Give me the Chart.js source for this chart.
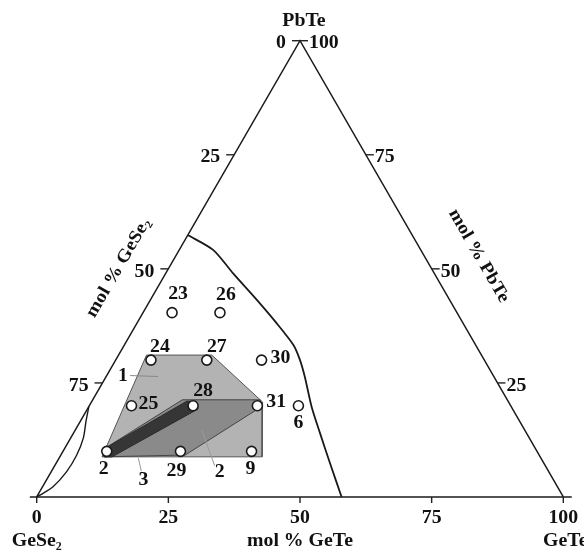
<!DOCTYPE html>
<html>
<head>
<meta charset="utf-8">
<script src="https://cdn.jsdelivr.net/npm/chart.js@4.4.0/dist/chart.umd.min.js"></script>
<style>
  html, body { margin: 0; padding: 0; background: #fff; }
  #forChart { width: 584px; height: 552px; }
</style>
</head>
<body>
<div id="forChart"><canvas id="myChart" width="584" height="552"></canvas></div>
<script>
// compositions, mol % (GeSe2 = 100 - GeTe - PbTe)
const pointNames = ['23', '26', '24', '27', '30', '25', '28', '31', '6', '2', '29', '9'];
const pointPbTe  = [40.4, 40.4, 30, 30, 30, 20, 20, 20, 20, 10, 10, 10];
const pointGeTe  = [5.5, 14.6, 6.7, 17.3, 27.7, 8, 19.7, 31.9, 39.7, 8.3, 22.3, 35.8];

// phase boundary
const boundaryPbTe = [57.4, 54.1, 49.0, 43.2, 38.1, 33.3, 30.0, 26.4, 19.8, 14.0, 7.4, 0];
const boundaryGeTe = [0, 6.5, 12.8, 20.2, 26.5, 32.1, 35.0, 37.7, 42.3, 46.8, 52.0, 57.9];

// small lens near GeSe2 corner
const lensPbTe = [19.8, 16.5, 12.9, 9.2, 5.5, 2.3, 0.4, 0];
const lensGeTe = [0, 1.1, 2.4, 3.0, 2.9, 2.0, 0.4, 0];

// regions 1, 2, 3
const region1PbTe = [31.1, 31.1, 20.8, 8.8, 8.8];
const region1GeTe = [5.3, 17.7, 32.5, 38.4, 8.0];
const region2PbTe = [21.3, 21.3, 19.8, 9.2, 8.8, 10.3];
const region2GeTe = [17.0, 31.8, 32.8, 23.6, 8.4, 7.3];
const region3PbTe = [10.3, 21.0, 20.9, 19.3, 8.8, 8.8];
const region3GeTe = [7.3, 18.0, 19.8, 21.0, 9.9, 8.4];
const regionNames = ['1', '2', '3'];
const regionLabelPbTe = [26.4, 5.3, 3.7];
const regionLabelGeTe = [3.2, 32.1, 18.4];

// axis ticks
const leftTicks = [0, 25, 50, 75];       // mol % GeSe2
const rightTicks = [100, 75, 50, 25];    // mol % PbTe
const bottomTicks = [0, 25, 50, 75, 100]; // mol % GeTe

function tern(geTe, pbTe) {
    return { x: geTe + pbTe / 2, y: pbTe * Math.sqrt(3) / 2 };
}
function build(pb, ge, close) {
    var out = pb.map(function(c, i) { return tern(ge[i], c); });
    if (close) out.push(out[0]);
    return out;
}

var FONT = '"Liberation Serif", "Times New Roman", serif';

const ternaryText = {
    id: 'ternaryText',
    afterDatasetsDraw: function(chart) {
        var ctx = chart.ctx;
        var xs = chart.scales.x, ys = chart.scales.y;
        function px(b, c) {
            var p = tern(b, c);
            return [xs.getPixelForValue(p.x), ys.getPixelForValue(p.y)];
        }
        function text(str, x, y, align, size, rot) {
            ctx.save();
            ctx.translate(x, y);
            if (rot) ctx.rotate(rot);
            ctx.scale(1.1, 1);
            ctx.font = 'bold ' + size + 'px ' + FONT;
            ctx.textAlign = align;
            ctx.textBaseline = 'middle';
            ctx.fillStyle = '#111';
            ctx.fillText(str, 0, 0);
            ctx.restore();
        }
        function seg(x1, y1, x2, y2, color, w) {
            ctx.save();
            ctx.strokeStyle = color;
            ctx.lineWidth = w;
            ctx.beginPath();
            ctx.moveTo(x1, y1);
            ctx.lineTo(x2, y2);
            ctx.stroke();
            ctx.restore();
        }

        // ticks
        leftTicks.forEach(function(a) {
            var p = px(0, 100 - a);
            seg(p[0] - 8, p[1], p[0], p[1], '#222', 1.4);
            text(String(a), p[0] - 14, p[1] + 3, 'right', 18);
        });
        rightTicks.forEach(function(c) {
            var p = px(100 - c, c);
            seg(p[0], p[1], p[0] + 8, p[1], '#222', 1.4);
            text(String(c), p[0] + 9, p[1] + 3, 'left', 18);
        });
        bottomTicks.forEach(function(b) {
            var p = px(b, 0);
            seg(p[0], p[1], p[0], p[1] + 6, '#222', 1.4);
            text(String(b), p[0], p[1] + 21, 'center', 18);
        });

        // corner names and axis titles
        var top = px(0, 100), bl = px(0, 0), br = px(100, 0), mid = px(50, 0);
        text('PbTe', top[0] + 4, top[1] - 19, 'center', 18);
        text('GeSe\u2082', bl[0], bl[1] + 44, 'center', 18);
        text('GeTe', br[0] + 2, br[1] + 44, 'center', 18);
        text('mol % GeTe', mid[0], mid[1] + 44, 'center', 18);
        var lm = px(0, 50), rm = px(50, 50);
        text('mol % GeSe\u2082', lm[0] - 50, lm[1] - 1, 'center', 18, -Math.PI / 3);
        text('mol % PbTe', rm[0] + 47, rm[1] - 13, 'center', 18, Math.PI / 3);

        // point labels
        var offs = [[6, -18], [6, -17], [9, -13], [10, -13], [17, -2], [15, -1],
                    [10, -14], [17, -3], [0, 18], [-3, 18], [-4, 20], [-1, 18]];
        pointNames.forEach(function(n, i) {
            var p = px(pointGeTe[i], pointPbTe[i]);
            var al = (i === 4 || i === 5 || i === 7) ? 'left' : 'center';
            var dx = offs[i][0] - (al === 'left' ? 8 : 0);
            text(n, p[0] + dx, p[1] + offs[i][1], al, 18);
        });

        // region labels with leader lines
        var r1 = px(regionLabelGeTe[0], regionLabelPbTe[0]);
        seg(r1[0] + 7, r1[1] - 1, r1[0] + 35, r1[1], '#8a8a8a', 1);
        text(regionNames[0], r1[0], r1[1], 'center', 18);
        var r2 = px(regionLabelGeTe[1], regionLabelPbTe[1]);
        seg(r2[0] - 5, r2[1] - 7, r2[0] - 18, r2[1] - 43, '#9a9a9a', 1);
        text(regionNames[1], r2[0], r2[1], 'center', 18);
        var r3 = px(regionLabelGeTe[2], regionLabelPbTe[2]);
        seg(r3[0] - 2, r3[1] - 9, r3[0] - 5, r3[1] - 22, '#9a9a9a', 1);
        text(regionNames[2], r3[0], r3[1], 'center', 18);
    }
};

function makeTernary(element) {
    var shapeStyle = { type: 'line', pointRadius: 0, tension: 0, fill: 'shape', clip: false };

    const data = {
        datasets: [
            {
                label: 'points',
                data: build(pointPbTe, pointGeTe, false),
                pointRadius: 5,
                pointBackgroundColor: '#ffffff',
                pointBorderColor: '#1a1a1a',
                pointBorderWidth: 1.6,
                showLine: false,
                clip: false,
                order: 0
            },
            Object.assign({}, shapeStyle, {
                label: '3',
                data: build(region3PbTe, region3GeTe, true),
                backgroundColor: '#363636',
                borderColor: '#2a2a2a',
                borderWidth: 1,
                order: 1
            }),
            Object.assign({}, shapeStyle, {
                label: '2',
                data: build(region2PbTe, region2GeTe, true),
                backgroundColor: '#8a8a8a',
                borderColor: '#444',
                borderWidth: 1,
                order: 2
            }),
            Object.assign({}, shapeStyle, {
                label: '1',
                data: build(region1PbTe, region1GeTe, true),
                backgroundColor: '#b3b3b3',
                borderColor: '#555',
                borderWidth: 1,
                order: 3
            }),
            {
                type: 'line', label: 'boundary',
                data: build(boundaryPbTe, boundaryGeTe, false),
                borderColor: '#1a1a1a', borderWidth: 1.8, pointRadius: 0,
                tension: 0.25, fill: false, clip: false, order: 4
            },
            {
                type: 'line', label: 'lens',
                data: build(lensPbTe, lensGeTe, false),
                borderColor: '#1a1a1a', borderWidth: 1.4, pointRadius: 0,
                tension: 0.3, fill: false, clip: false, order: 4
            },
            {
                type: 'line', label: 'edges',
                data: [tern(0, 0), tern(0, 100), tern(100, 0)],
                borderColor: '#1a1a1a', borderWidth: 1.5, pointRadius: 0,
                tension: 0, fill: false, clip: false, order: 5
            },
            {
                type: 'line', label: 'base',
                data: [tern(-1.3, 0), tern(101.6, 0)],
                borderColor: '#1a1a1a', borderWidth: 1.5, pointRadius: 0,
                tension: 0, fill: false, clip: false, order: 5
            }
        ]
    };

    const config = {
        type: 'scatter',
        data: data,
        options: {
            responsive: false,
            animation: false,
            devicePixelRatio: 1,
            layout: { padding: 0, autoPadding: false },
            plugins: { legend: { display: false }, tooltip: { enabled: false } },
            scales: {
                x: { type: 'linear', display: false, min: -6.97, max: 103.93 },
                y: { type: 'linear', display: false, min: -10.44, max: 94.33 }
            }
        },
        plugins: [ternaryText]
    };

    const myChart = new Chart(document.getElementById(element), config);
}

window.onload = function() {
    makeTernary('myChart');
};
</script>
</body>
</html>
